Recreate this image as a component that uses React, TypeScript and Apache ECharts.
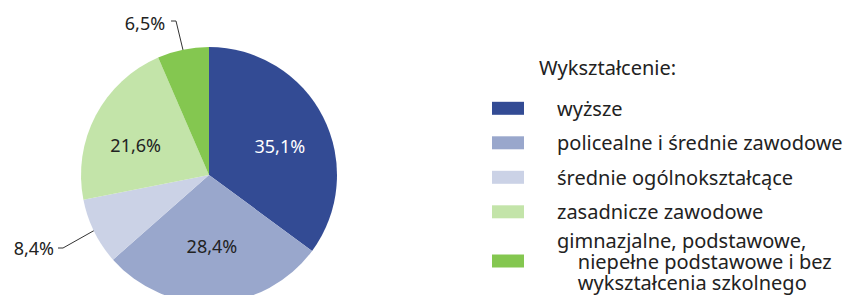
import React, { useEffect, useRef } from "react";
import * as echarts from "echarts";

const categories = [
  "wyższe",
  "policealne i średnie zawodowe",
  "średnie ogólnokształcące",
  "zasadnicze zawodowe",
  "gimnazjalne, podstawowe, niepełne podstawowe i bez wykształcenia szkolnego",
];
const values = [35.1, 28.4, 8.4, 21.6, 6.5];
const colors = ["#334b94", "#99a7cc", "#cbd2e6", "#c3e4a9", "#84c750"];
const legendTitle = "Wykształcenie:";
const lastLegendLines = [
  "gimnazjalne, podstawowe,",
  "\u00A0\u00A0\u00A0\u00A0niepełne podstawowe i bez",
  "\u00A0\u00A0\u00A0\u00A0wykształcenia szkolnego",
];

const FONT = "'Noto Sans', sans-serif";

export default function App() {
  const ref = useRef<HTMLDivElement>(null);
  useEffect(() => {
    const chart = echarts.init(ref.current!, null, { renderer: "svg" });
    const fmt = (v: number) => v.toFixed(1).replace(".", ",") + "%";
    chart.setOption({
      animation: false,
      backgroundColor: "#ffffff",
      title: {
        text: legendTitle,
        left: 539,
        top: 57,
        padding: 0,
        textStyle: { fontFamily: FONT, fontSize: 20, fontWeight: "normal", color: "#222" },
      },
      legend: {
        orient: "vertical",
        left: 492,
        top: 91.5,
        height: 400,
        padding: 0,
        icon: "rect",
        itemWidth: 32,
        itemHeight: 13,
        itemGap: 0.9,
        data: categories,
        formatter: (name: string) =>
          name === categories[4] ? lastLegendLines.map((l) => "{m|" + l + "}").join("\n") : name,
        textStyle: {
          fontFamily: FONT,
          fontSize: 20,
          lineHeight: 33.6,
          color: "#222",
          padding: [0, 0, 0, 28],
          rich: {
            m: { fontFamily: FONT, fontSize: 20, lineHeight: 21, color: "#222" },
          },
        },
      },
      series: [
        {
          type: "pie",
          center: [209, 175],
          radius: 128,
          startAngle: 90,
          clockwise: true,
          silent: true,
          color: colors,
          data: categories.map((c, i) => ({
            name: c,
            value: values[i],
            itemStyle: { color: colors[i] },
            label:
              i === 2 || i === 4
                ? { position: "outside", color: "#222", overflow: "none", width: 60 }
                : { position: "inside", color: i === 0 ? "#ffffff" : "#222" },
            labelLine: i === 2 || i === 4 ? { show: true, lineStyle: { color: "#333", width: 1 } } : { show: false },
          })),
          label: {
            show: true,
            formatter: (p: any) => fmt(p.value),
            fontFamily: FONT,
            fontSize: 18,
          },
          labelLayout: (p: any) => {
            const i = p.dataIndex;
            if (i === 0) return { dx: 11, dy: 1 };
            if (i === 1) return { dx: 0, dy: 4 };
            if (i === 3) return { dx: -14, dy: 1 };
            if (i === 2)
              return {
                x: 54,
                y: 248,
                align: "right",
                verticalAlign: "middle",
                labelLinePoints: [[95, 230], [63, 248], [58, 248]],
              };
            return {
              x: 145,
              y: 23,
              align: "center",
              verticalAlign: "middle",
              labelLinePoints: [[183, 50], [176, 21], [171, 21]],
            };
          },
        },
      ],
    });
    return () => chart.dispose();
  }, []);
  return <div ref={ref} style={{ position: "fixed", left: 0, top: 0, width: 845, height: 295 }} />;
}
